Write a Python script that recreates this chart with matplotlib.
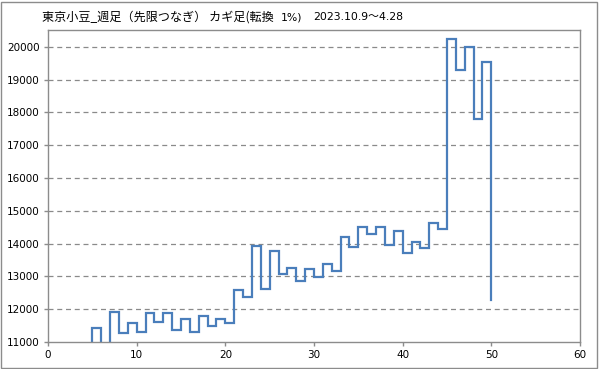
import matplotlib
matplotlib.use("Agg")
import matplotlib.pyplot as plt
from matplotlib.patches import Rectangle

# Kagi step positions (x index) and levels
x_idx = list(range(1, 51))
levels = [10300, 10850, 10500, 10800, 11440, 10700, 11920, 11270, 11580, 11300,
          11890, 11610, 11890, 11360, 11690, 11310, 11780, 11490, 11715, 11590,
          12590, 12380, 13935, 12610, 13785, 13060, 13265, 12865, 13225, 12990,
          13370, 13175, 14210, 13910, 14490, 14300, 14490, 13965, 14395, 13715,
          14050, 13860, 14620, 14430, 20250, 19285, 19980, 17800, 19530, 12275]
x_ticks = [0, 10, 20, 30, 40, 50, 60]
y_ticks = [11000, 12000, 13000, 14000, 15000, 16000, 17000, 18000, 19000, 20000]
title_jp = "東京小豆_週足（先限つなぎ） カギ足(転換"
title_pct = "1%)"
title_date = "2023.10.9～4.28"

W, H = 599, 369
fig = plt.figure(figsize=(W / 100, H / 100), dpi=100)
fig.patch.set_facecolor("white")
fig.patches.append(Rectangle((1 / W, 1 / H), 1 - 3 / W, 1 - 3 / H, transform=fig.transFigure,
                             fill=False, edgecolor="#8c8c8c", linewidth=1.0))

ax = fig.add_axes([48 / W, 1 - 342 / H, (580 - 48) / W, (342 - 30.3) / H])
ax.plot(x_idx, levels, drawstyle="steps-post", color="#4a7ebb", linewidth=1.6,
        solid_joinstyle="miter")
ax.set_xlim(0, 60)
ax.set_ylim(11000, 20500)
ax.set_xticks(x_ticks)
ax.set_yticks(y_ticks)
for y in y_ticks[1:]:
    ax.axhline(y, color="#8a8a8a", linewidth=0.9, linestyle=(0, (4, 3)), zorder=0)
for s in ax.spines.values():
    s.set_color("#8c8c8c")
    s.set_linewidth(1.0)
ax.tick_params(direction="out", length=3, width=1, color="#8c8c8c", labelsize=7.5,
               labelcolor="#000000", pad=3)
for lab in ax.get_xticklabels() + ax.get_yticklabels():
    lab.set_family(["DejaVu Sans"])

fig.text(42 / W, 1 - 17 / H, title_jp, fontsize=8.7, va="center", ha="left",
         family=["Noto Sans CJK JP", "DejaVu Sans"])
fig.text(281 / W, 1 - 17 / H, title_pct, fontsize=7.8, va="center", ha="left",
         family=["DejaVu Sans", "Noto Sans CJK JP"])
fig.text(313 / W, 1 - 17 / H, title_date, fontsize=7.8, va="center", ha="left",
         family=["DejaVu Sans", "Noto Sans CJK JP"])

fig.savefig("out.png", dpi=100, facecolor="white")
